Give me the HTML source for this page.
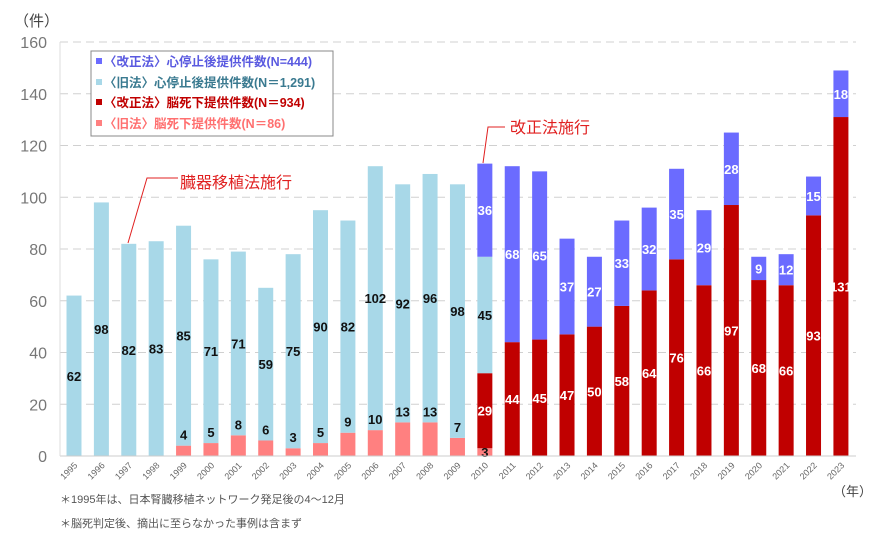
<!DOCTYPE html>
<html><head><meta charset="utf-8"><style>
body{margin:0;background:#fff;}
svg{display:block;font-family:"Liberation Sans","Noto Sans CJK JP",sans-serif;}
</style></head><body>
<svg id="chart" width="890" height="541">
<text x="14" y="26" font-size="15" fill="#444">（件）</text>
<g id="grid"></g>
<g id="bars"></g>
<g id="labels"></g>
<g id="xlabels"></g>
<line x1="60" y1="456" x2="856" y2="456" stroke="#ccc" stroke-width="1"/>
<line x1="60" y1="42" x2="60" y2="456" stroke="#ddd" stroke-width="1"/>
<g>
<rect x="91" y="51" width="242" height="85" fill="#fff" stroke="#888" stroke-width="1"/>
<g font-size="12.5" font-weight="bold">
<rect x="96" y="58" width="6" height="6" fill="#6b6bff"/><text x="104" y="66" fill="#5a5ae0">〈改正法〉心停止後提供件数(N=444)</text>
<rect x="96" y="79" width="6" height="6" fill="#a8d8e8"/><text x="104" y="87" fill="#3a7a90">〈旧法〉心停止後提供件数(N＝1,291)</text>
<rect x="96" y="99" width="6" height="6" fill="#c00000"/><text x="104" y="107" fill="#c00000">〈改正法〉脳死下提供件数(N＝934)</text>
<rect x="96" y="120" width="6" height="6" fill="#ff8080"/><text x="104" y="128" fill="#ff7070">〈旧法〉脳死下提供件数(N＝86)</text>
</g></g>
<polyline points="128,243 147,178 178,178" fill="none" stroke="#e02020" stroke-width="1"/>
<text x="180" y="188" font-size="16" fill="#e02020">臓器移植法施行</text>
<polyline points="483,163 488,127 505,127" fill="none" stroke="#e02020" stroke-width="1"/>
<text x="510" y="133" font-size="16" fill="#e02020">改正法施行</text>
<text x="60" y="503" font-size="11" fill="#555">＊1995年は、日本腎臓移植ネットワーク発足後の4～12月</text>
<text x="60" y="527" font-size="11" fill="#555">＊脳死判定後、摘出に至らなかった事例は含まず</text>
<text x="833" y="496" font-size="13" fill="#444">（年）</text>
</svg>
<script>
const years=[1995,1996,1997,1998,1999,2000,2001,2002,2003,2004,2005,2006,2007,2008,2009,2010,2011,2012,2013,2014,2015,2016,2017,2018,2019,2020,2021,2022,2023];
const oldBrain=[0,0,0,0,4,5,8,6,3,5,9,10,13,13,7,3,0,0,0,0,0,0,0,0,0,0,0,0,0];
const oldHeart=[62,98,82,83,85,71,71,59,75,90,82,102,92,96,98,45,0,0,0,0,0,0,0,0,0,0,0,0,0];
const newBrain=[0,0,0,0,0,0,0,0,0,0,0,0,0,0,0,29,44,45,47,50,58,64,76,66,97,68,66,93,131];
const newHeart=[0,0,0,0,0,0,0,0,0,0,0,0,0,0,0,36,68,65,37,27,33,32,35,29,28,9,12,15,18];
const yTicks=[0,20,40,60,80,100,120,140,160];
const NS='http://www.w3.org/2000/svg';
const y0=456,yTop=42,yMax=160;
function Y(v){return y0-(v/yMax)*(y0-yTop);}
function X(i){return 74+i*27.39;}
function mk(tag,attrs,parent){const e=document.createElementNS(NS,tag);for(const k in attrs)e.setAttribute(k,attrs[k]);parent.appendChild(e);return e;}
const grid=document.getElementById('grid'),bars=document.getElementById('bars'),labels=document.getElementById('labels'),xl=document.getElementById('xlabels');
yTicks.forEach(t=>{
  if(t>0){const l=mk('line',{x1:60,x2:856,y1:Y(t),y2:Y(t),stroke:'#d0d0d0','stroke-dasharray':'8,5'},grid);
  
  }
  const tx=mk('text',{x:47,y:Y(t)+6,'font-size':16,fill:'#777','text-anchor':'end'},grid);
  tx.textContent=t;
  
  
});
const series=[[oldBrain,'#ff8080','old-brain'],[newBrain,'#c00000','new-brain'],[oldHeart,'#a8d8e8','old-heart'],[newHeart,'#6b6bff','new-heart']];
years.forEach((yr,i)=>{
  let acc=0;const cx=X(i);
  series.forEach(([arr,col,nm])=>{
    const v=arr[i];if(!v)return;
    const yb=Y(acc),yt=Y(acc+v);
    const r=mk('rect',{x:cx-7.5,y:yt,width:15,height:yb-yt,fill:col},bars);
    
    
    let ly=(yb+yt)/2+5,fill='#fff';
    if(nm==='old-heart')fill='#111';
    if(nm==='old-brain'){fill='#111';ly=(v>3||yr!==2010)?yt-6:ly;}
    const t=mk('text',{x:cx,y:ly,'font-size':13,'font-weight':'bold',fill:fill,'text-anchor':'middle'},labels);
    t.textContent=v;
    
    
    acc+=v;
  });
  const t=mk('text',{x:cx+4,y:466,'font-size':9,fill:'#666','text-anchor':'end',transform:'rotate(-45 '+(cx+4)+' 466)'},xl);
  t.textContent=yr;
  
  
});
</script>
</body></html>
